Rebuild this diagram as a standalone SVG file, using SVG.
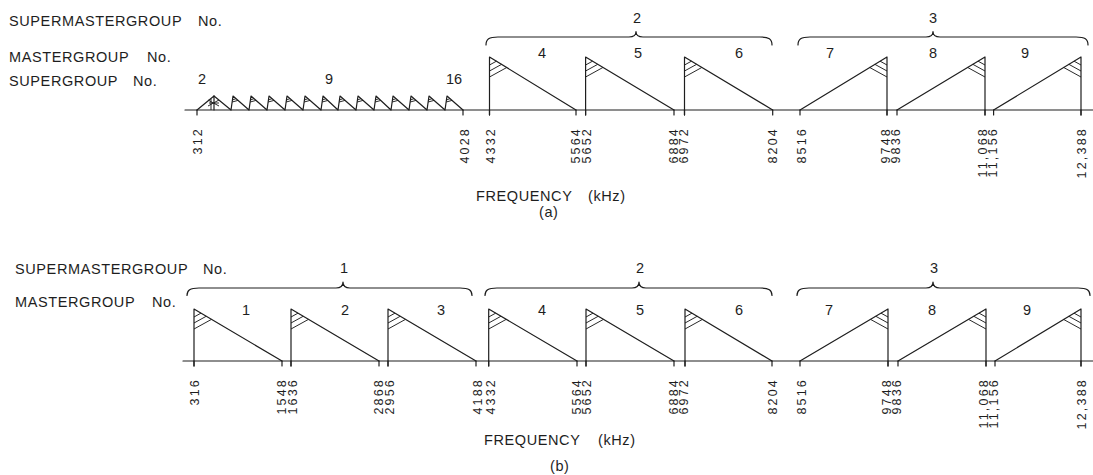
<svg xmlns="http://www.w3.org/2000/svg" xmlns:xlink="http://www.w3.org/1999/xlink" width="1093" height="475" viewBox="0 0 1093 475">
<style>
.ln{fill:none;stroke:#1e1e1e;stroke-width:1.2;stroke-linecap:round;stroke-linejoin:round}
.thin{fill:none;stroke:#1e1e1e;stroke-width:0.95}
.t{font-family:"Liberation Sans",Arial,Helvetica,sans-serif;font-size:14.5px;letter-spacing:0.6px;fill:#1e1e1e}
.n{font-family:"Liberation Sans",Arial,Helvetica,sans-serif;font-size:14.5px;fill:#1e1e1e;text-anchor:middle}
.tk{font-family:"Liberation Sans",Arial,Helvetica,sans-serif;font-size:12.5px;letter-spacing:2.2px;fill:#1e1e1e;text-anchor:end}
</style>
<defs>
<path id="hf" class="thin" d="M0,8 L6.96,4.17 M0,14 L12.17,7.3 M0,20 L17.39,10.43"/>
<path id="hs" class="thin" d="M-0.5,4 L3,2.6 M-0.8,6 L5,4.4"/>
</defs>
<rect width="1093" height="475" fill="#ffffff"/>

<!-- ================= (a) ================= -->
<g id="a-labels">
<text class="t" x="9" y="26">SUPERMASTERGROUP</text><text class="t" x="198" y="26">No.</text>
<text class="t" x="9" y="62">MASTERGROUP</text><text class="t" x="147" y="62">No.</text>
<text class="t" x="9" y="86">SUPERGROUP</text><text class="t" x="133" y="86">No.</text>
<text class="n" x="637" y="23">2</text>
<text class="n" x="933" y="23">3</text>
<text class="n" x="542" y="58">4</text>
<text class="n" x="638" y="58">5</text>
<text class="n" x="739" y="58">6</text>
<text class="n" x="830" y="58">7</text>
<text class="n" x="933" y="58">8</text>
<text class="n" x="1025" y="58">9</text>
<text class="n" x="202" y="84">2</text>
<text class="n" x="329" y="84">9</text>
<text class="n" x="454" y="84">16</text>
<text class="t" x="476" y="201">FREQUENCY</text><text class="t" x="588" y="201">(kHz)</text>
<text class="t" x="539" y="217">(a)</text>
</g>

<g id="a-braces">
<path class="ln" d="M486,45 C486,39 489,37 498,37 L629,37 C633,37 636,36 636,31.5 C636,36 639,37 643,37 L760,37 C769,37 772,39 772,45"/>
<path class="ln" d="M798,45 C798,39 801,37 810,37 L926,37 C930,37 933,36 933,31.5 C933,36 936,37 940,37 L1076,37 C1085,37 1088,39 1088,45"/>
</g>

<g id="a-axis">
<path class="ln" d="M185,110 L1093,110"/>
<path class="ln" d="M197,110 v5 M463,110 v5 M489.5,110 v5 M576,110 v5 M585.6,110 v5 M674,110 v5 M684.5,110 v5 M772.7,110 v5 M800,110 v5 M887,110 v5 M897,110 v5 M985,110 v5 M993.6,110 v5 M1081,110 v5"/>
</g>

<g id="a-supergroups">
<path class="ln" d="M197,110 L214,96 L214,110"/>
<path class="thin" d="M211,99 L211,110 M208,100 L219,106 M208,106 L219,100 M209,103 L219,103"/>
<path class="ln" d="M214,96 L231,110 M231,110 L233,96 L249,110 L251,96 L267,110 L269,96 L285,110 L287,96 L303,110 L305,96 L321,110 L323,96 L338,110 L340,96 L356,110 L358,96 L374,110 L376,96 L391,110 L393,96 L409,110 L411,96 L427,110 L429,96 L445,110 L447,96 L463,110"/>
<use xlink:href="#hs" href="#hs" x="233" y="96"/><use xlink:href="#hs" href="#hs" x="251" y="96"/>
<use xlink:href="#hs" href="#hs" x="269" y="96"/><use xlink:href="#hs" href="#hs" x="287" y="96"/>
<use xlink:href="#hs" href="#hs" x="305" y="96"/><use xlink:href="#hs" href="#hs" x="323" y="96"/>
<use xlink:href="#hs" href="#hs" x="340" y="96"/><use xlink:href="#hs" href="#hs" x="358" y="96"/>
<use xlink:href="#hs" href="#hs" x="376" y="96"/><use xlink:href="#hs" href="#hs" x="393" y="96"/>
<use xlink:href="#hs" href="#hs" x="411" y="96"/><use xlink:href="#hs" href="#hs" x="429" y="96"/>
<use xlink:href="#hs" href="#hs" x="447" y="96"/>
</g>

<g id="a-mg4"><path class="ln" d="M489.5,115 L489.5,57 L576,110"/><use xlink:href="#hf" href="#hf" x="489.5" y="57"/></g>
<g id="a-mg5"><path class="ln" d="M585.6,115 L585.6,57 L674,110"/><use xlink:href="#hf" href="#hf" x="585.6" y="57"/></g>
<g id="a-mg6"><path class="ln" d="M684.5,115 L684.5,57 L772.7,110"/><use xlink:href="#hf" href="#hf" x="684.5" y="57"/></g>
<g id="a-mg7"><path class="ln" d="M800,110 L887,57 L887,115"/><use xlink:href="#hf" href="#hf" transform="translate(887,57) scale(-1,1)"/></g>
<g id="a-mg8"><path class="ln" d="M897,110 L985,57 L985,115"/><use xlink:href="#hf" href="#hf" transform="translate(985,57) scale(-1,1)"/></g>
<g id="a-mg9"><path class="ln" d="M993.6,110 L1081,57 L1081,115"/><use xlink:href="#hf" href="#hf" transform="translate(1081,57) scale(-1,1)"/></g>

<g id="a-ticklabels">
<text class="tk" transform="translate(201.5,127) rotate(-90)">312</text>
<text class="tk" transform="translate(468.5,127) rotate(-90)">4028</text>
<text class="tk" transform="translate(494.5,127) rotate(-90)">4332</text>
<text class="tk" transform="translate(580,127) rotate(-90)">5564</text>
<text class="tk" transform="translate(590.5,127) rotate(-90)">5652</text>
<text class="tk" transform="translate(677.5,127) rotate(-90)">6884</text>
<text class="tk" transform="translate(688,127) rotate(-90)">6972</text>
<text class="tk" transform="translate(777,127) rotate(-90)">8204</text>
<text class="tk" transform="translate(805.5,127) rotate(-90)">8516</text>
<text class="tk" transform="translate(889.5,127) rotate(-90)">9748</text>
<text class="tk" transform="translate(900,127) rotate(-90)">9836</text>
<text class="tk" transform="translate(986.5,127) rotate(-90)">11,068</text>
<text class="tk" transform="translate(997,127) rotate(-90)">11,156</text>
<text class="tk" transform="translate(1086,127) rotate(-90)">12,388</text>
</g>

<!-- ================= (b) ================= -->
<g id="b-labels">
<text class="t" x="15" y="274">SUPERMASTERGROUP</text><text class="t" x="203" y="274">No.</text>
<text class="t" x="15" y="307">MASTERGROUP</text><text class="t" x="152" y="307">No.</text>
<text class="n" x="344" y="273">1</text>
<text class="n" x="640" y="273">2</text>
<text class="n" x="934" y="273">3</text>
<text class="n" x="246" y="315">1</text>
<text class="n" x="345" y="315">2</text>
<text class="n" x="441" y="315">3</text>
<text class="n" x="542" y="315">4</text>
<text class="n" x="640" y="315">5</text>
<text class="n" x="739" y="315">6</text>
<text class="n" x="829" y="315">7</text>
<text class="n" x="932" y="315">8</text>
<text class="n" x="1027" y="315">9</text>
<text class="t" x="484" y="445">FREQUENCY</text><text class="t" x="598" y="445">(kHz)</text>
<text class="t" x="550" y="471">(b)</text>
</g>

<g id="b-braces">
<path class="ln" d="M187,295.5 C187,290 190,288 199,288 L336,288 C340,288 343,287 343,282 C343,287 346,288 350,288 L460,288 C469,288 472,290 472,295.5"/>
<path class="ln" d="M485,295.5 C485,290 488,288 497,288 L632,288 C636,288 639,287 639,282 C639,287 642,288 646,288 L760,288 C769,288 772,290 772,295.5"/>
<path class="ln" d="M797,295.5 C797,290 800,288 809,288 L926,288 C930,288 933,287 933,282 C933,287 936,288 940,288 L1078,288 C1087,288 1090,290 1090,295.5"/>
</g>

<g id="b-axis">
<path class="ln" d="M183,361 L1093,361"/>
<path class="ln" d="M194,361 v5 M282,361 v5 M291,361 v5 M379,361 v5 M388,361 v5 M476,361 v5 M488.7,361 v5 M577,361 v5 M586,361 v5 M674,361 v5 M685,361 v5 M772,361 v5 M800,361 v5 M888,361 v5 M898,361 v5 M986,361 v5 M995,361 v5 M1081,361 v5"/>
</g>

<g id="b-mg1"><path class="ln" d="M194,366 L194,309 L282,361"/><use xlink:href="#hf" href="#hf" x="194" y="309"/></g>
<g id="b-mg2"><path class="ln" d="M291,366 L291,309 L379,361"/><use xlink:href="#hf" href="#hf" x="291" y="309"/></g>
<g id="b-mg3"><path class="ln" d="M388,366 L388,309 L476,361"/><use xlink:href="#hf" href="#hf" x="388" y="309"/></g>
<g id="b-mg4"><path class="ln" d="M488.7,366 L488.7,309 L577,361"/><use xlink:href="#hf" href="#hf" x="488.7" y="309"/></g>
<g id="b-mg5"><path class="ln" d="M586,366 L586,309 L674,361"/><use xlink:href="#hf" href="#hf" x="586" y="309"/></g>
<g id="b-mg6"><path class="ln" d="M685,366 L685,309 L772,361"/><use xlink:href="#hf" href="#hf" x="685" y="309"/></g>
<g id="b-mg7"><path class="ln" d="M800,361 L888,309 L888,366"/><use xlink:href="#hf" href="#hf" transform="translate(888,309) scale(-1,1)"/></g>
<g id="b-mg8"><path class="ln" d="M898,361 L986,309 L986,366"/><use xlink:href="#hf" href="#hf" transform="translate(986,309) scale(-1,1)"/></g>
<g id="b-mg9"><path class="ln" d="M995,361 L1081,309 L1081,366"/><use xlink:href="#hf" href="#hf" transform="translate(1081,309) scale(-1,1)"/></g>

<g id="b-ticklabels">
<text class="tk" transform="translate(198.5,378) rotate(-90)">316</text>
<text class="tk" transform="translate(286,378) rotate(-90)">1548</text>
<text class="tk" transform="translate(297,378) rotate(-90)">1636</text>
<text class="tk" transform="translate(383,378) rotate(-90)">2868</text>
<text class="tk" transform="translate(394,378) rotate(-90)">2956</text>
<text class="tk" transform="translate(481.5,378) rotate(-90)">4188</text>
<text class="tk" transform="translate(494.5,378) rotate(-90)">4332</text>
<text class="tk" transform="translate(580.5,378) rotate(-90)">5564</text>
<text class="tk" transform="translate(591,378) rotate(-90)">5652</text>
<text class="tk" transform="translate(677.5,378) rotate(-90)">6884</text>
<text class="tk" transform="translate(688,378) rotate(-90)">6972</text>
<text class="tk" transform="translate(777,378) rotate(-90)">8204</text>
<text class="tk" transform="translate(805.5,378) rotate(-90)">8516</text>
<text class="tk" transform="translate(890.5,378) rotate(-90)">9748</text>
<text class="tk" transform="translate(901,378) rotate(-90)">9836</text>
<text class="tk" transform="translate(987.5,378) rotate(-90)">11,068</text>
<text class="tk" transform="translate(998,378) rotate(-90)">11,156</text>
<text class="tk" transform="translate(1086,378) rotate(-90)">12,388</text>
</g>
</svg>
